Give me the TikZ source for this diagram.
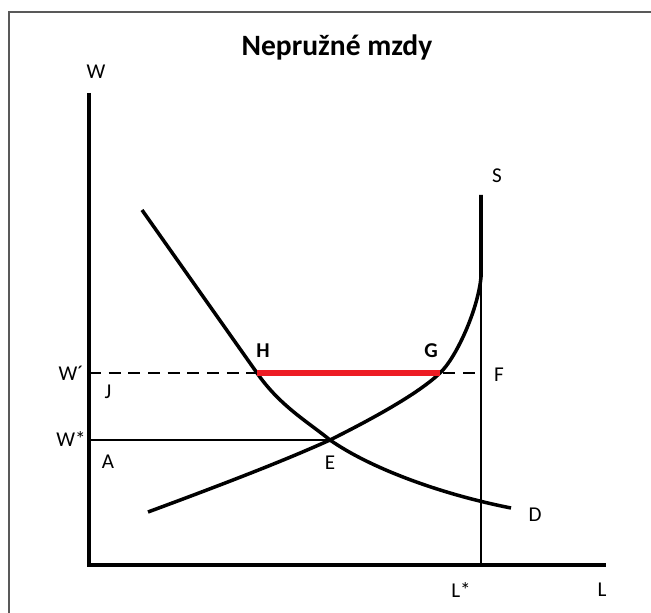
\documentclass[tikz,border=0pt]{standalone}
\usepackage{fontspec}
\setmainfont{Carlito}
\usepackage{tikz}
\definecolor{wagered}{RGB}{237,28,36}

\begin{document}
\begin{tikzpicture}[x=0.025cm, y=0.025cm,
    axis/.style={line width=2.8pt},
    curve/.style={line width=2.5pt},
    thin/.style={line width=0.9pt},
    lbl/.style={font=\fontsize{15}{17}\selectfont, inner sep=0pt},
    hl/.style={font=\fontsize{15}{17}\selectfont\bfseries, inner sep=0pt}]
    \useasboundingbox (0,0) rectangle (651,612);

    % Frame
    \draw[gray!70!black, line width=1pt] (9,-10) |- (660,600);

    % Points
    \coordinate (O) at (89,47);
    \coordinate (Ytop) at (89,519);
    \coordinate (Xend) at (606,47);
    \coordinate (Wp) at (89,239);
    \coordinate (Ws) at (89,172);
    \coordinate (H) at (257,239);
    \coordinate (G) at (440,239);
    \coordinate (F) at (481,239);
    \coordinate (E) at (330,172);
    \coordinate (Lfoot) at (481,47);
    \coordinate (Stop) at (481,417);
    \coordinate (Sbend) at (481,335);
    \coordinate (Sstart) at (148,100);
    \coordinate (Dtop) at (142,402);
    \coordinate (Dend) at (511,104);

    % Title and labels
    \node[font=\fontsize{21}{25}\selectfont\bfseries] (title) at (337,565) {Nepružné mzdy};
    \node[lbl] (wlab) at (96,540) {W};
    \node[lbl] (llab) at (602,22) {L};
    \node[lbl] (lslab) at (461,22) {L*};
    \node[lbl] (wplab) at (71,239) {W´};
    \node[lbl] (wslab) at (71,173) {W*};
    \node[lbl] (jlab) at (108,220) {J};
    \node[lbl] (alab) at (108,150) {A};
    \node[lbl] (elab) at (330,149) {E};
    \node[lbl] (flab) at (499,237) {F};
    \node[lbl] (slab) at (497,436) {S};
    \node[lbl] (dlab) at (535,97) {D};
    \node[hl] (hlab) at (263,261) {H};
    \node[hl] (glab) at (431,261) {G};

    % Helper lines
    \draw[thin, dashed, dash pattern=on 8.5pt off 5.5pt] (Wp) -- (F);
    \draw[thin] (Ws) -- (E);
    \draw[thin] (Lfoot) -- (Stop);

    % Axes
    \draw[axis] (Ytop) -- (O) -- (Xend);

    % Supply
    \draw[curve] (Sstart) .. controls (240,134) and (290,154) .. (E)
        .. controls (380,197) and (420,220) .. (G)
        .. controls (456,254) and (478,302) .. (Sbend) -- (Stop);

    % Demand
    \draw[curve] (Dtop) -- (H) .. controls (280,206) and (308,190) .. (E)
        .. controls (370,144) and (440,118) .. (Dend);

    % Gap
    \draw[wagered, line width=4.3pt] (H) -- (G);
\end{tikzpicture}
\end{document}
